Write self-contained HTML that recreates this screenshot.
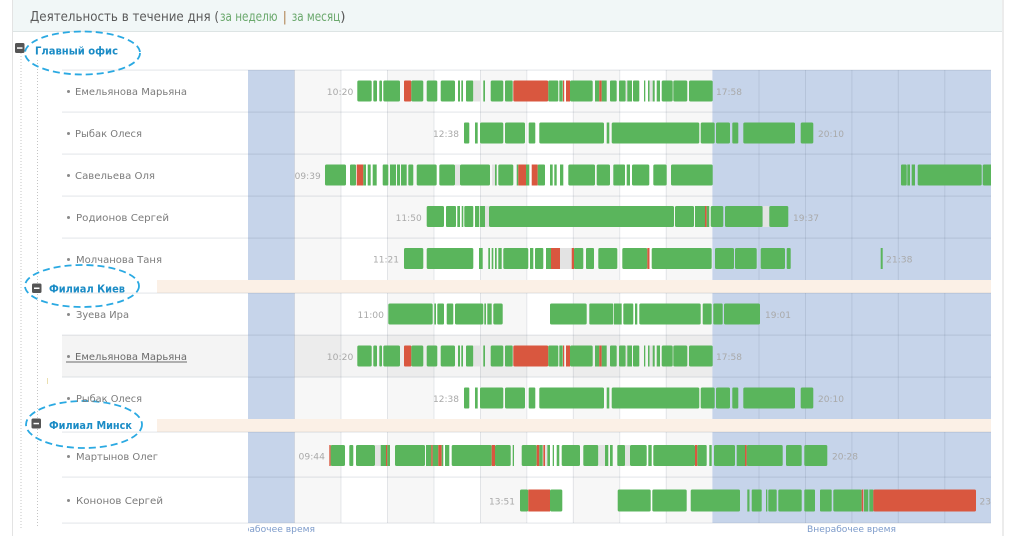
<!DOCTYPE html>
<html><head><meta charset="utf-8">
<style>
html,body{margin:0;padding:0;background:#fff;}
svg{display:block;}
.g{fill:#5ab55c}.r{fill:#d9573f}.l{fill:#e3e3e3}
.nm{font-family:"DejaVu Sans","Liberation Sans",sans-serif;font-size:10px;fill:#7b7b7b}
.tm{font-family:"DejaVu Sans","Liberation Sans",sans-serif;font-size:9px;fill:#a9a9a9}
.grp{font-family:"DejaVu Sans","Liberation Sans",sans-serif;font-size:11px;font-weight:bold;fill:#1b8cc6}
.gl{fill:rgba(70,85,110,0.13)}
</style></head>
<body>
<svg width="1024" height="536" viewBox="0 0 1024 536" xmlns="http://www.w3.org/2000/svg">
<defs>
<clipPath id="cc"><rect x="248" y="0" width="743" height="536"/></clipPath>
<g id="r1">
<rect class="g" x="357.3" width="14.4" height="21" rx="1.5"/><rect class="g" x="373.3" width="3.7" height="21" rx="1"/><rect class="g" x="379.3" width="2.7" height="21" rx="1"/><rect class="g" x="383.3" width="16.7" height="21" rx="1.5"/><rect class="r" x="404" width="7.3" height="21" rx="1"/><rect class="g" x="411.3" width="12" height="21" rx="1.5"/><rect class="g" x="426.7" width="10.6" height="21" rx="1.5"/><rect class="g" x="440.7" width="14.3" height="21" rx="1.5"/><rect class="g" x="458" width="2" height="21"/><rect class="g" x="461.3" width="1.7" height="21"/><rect class="g" x="466" width="7.3" height="21" rx="1"/><rect class="l" x="473.3" width="7.4" height="21"/><rect class="g" x="483.3" width="1.7" height="21"/><rect class="g" x="490.7" width="12.6" height="21" rx="1.5"/><rect class="g" x="505" width="7.7" height="21" rx="1"/><rect class="r" x="513.3" width="35" height="21" rx="1.5"/><rect class="g" x="548.3" width="10" height="21" rx="1"/><rect class="g" x="559.3" width="3.4" height="21"/><rect class="r" x="563" width="1.2" height="21"/><rect class="r" x="566" width="4" height="21"/><rect class="g" x="570" width="22.7" height="21" rx="1.5"/><rect class="g" x="595" width="4.3" height="21"/><rect class="r" x="599.3" width="2.4" height="21"/><rect class="g" x="601.7" width="5" height="21"/><rect class="g" x="610" width="6.7" height="21" rx="1"/><rect class="g" x="619" width="6.7" height="21" rx="1"/><rect class="l" x="625.7" width="1.6" height="21"/><rect class="g" x="627.3" width="4.7" height="21"/><rect class="g" x="633" width="6.3" height="21" rx="1"/><rect class="g" x="644" width="1.3" height="21"/><rect class="g" x="648" width="1.5" height="21"/><rect class="l" x="649.5" width="3.2" height="21"/><rect class="g" x="652.7" width="2" height="21"/><rect class="g" x="656.7" width="3.3" height="21"/><rect class="g" x="661.7" width="11" height="21" rx="1.5"/><rect class="g" x="673.3" width="14" height="21" rx="1.5"/><rect class="g" x="689" width="23.7" height="21" rx="1.5"/>
</g>
<g id="r2">
<rect class="g" x="464" width="5.3" height="21" rx="1"/><rect class="g" x="475" width="2.7" height="21"/><rect class="g" x="480" width="23.3" height="21" rx="1.5"/><rect class="g" x="505" width="20" height="21" rx="1.5"/><rect class="g" x="528.7" width="6.6" height="21" rx="1"/><rect class="g" x="539.3" width="64.7" height="21" rx="1.5"/><rect class="g" x="606.7" width="2.6" height="21"/><rect class="g" x="611.7" width="87.6" height="21" rx="1.5"/><rect class="g" x="700.7" width="14" height="21" rx="1.5"/><rect class="g" x="716" width="14" height="21" rx="1.5"/><rect class="g" x="732.3" width="6" height="21" rx="1"/><rect class="g" x="743.3" width="51.7" height="21" rx="1.5"/><rect class="g" x="800.7" width="12.6" height="21" rx="1.5"/>
</g>
</defs>

<!-- panel -->
<rect x="13" y="0" width="990" height="31" fill="#f1f7f7"/>
<rect x="13" y="31" width="990" height="1" fill="#dde4e4"/>
<rect x="12" y="0" width="1" height="536" fill="#e3e3e3"/>
<rect x="1002" y="0" width="2" height="536" fill="#ececec"/>

<!-- title -->
<g font-family="DejaVu Sans, Liberation Sans, sans-serif" font-size="13.5">
<text x="30" y="21" fill="#5a5a5a" textLength="189" lengthAdjust="spacingAndGlyphs">Деятельность в течение дня (</text>
<text x="220" y="21" fill="#6aa86c" textLength="57.5" lengthAdjust="spacingAndGlyphs">за неделю</text>
<text x="282.5" y="21" fill="#b48a5c">|</text>
<text x="291.7" y="21" fill="#6aa86c" textLength="48.5" lengthAdjust="spacingAndGlyphs">за месяц</text>
<text x="340.3" y="21" fill="#5a5a5a">)</text>
</g>

<!-- chart background -->
<g>
<rect x="294.4" y="70" width="46.5" height="453" fill="#f7f7f7"/>
<rect x="387.3" y="70" width="46.5" height="453" fill="#f7f7f7"/>
<rect x="480.2" y="70" width="46.4" height="453" fill="#f7f7f7"/>
<rect x="573.1" y="70" width="46.4" height="453" fill="#f7f7f7"/>
<rect x="666" y="70" width="46.4" height="453" fill="#f7f7f7"/>
<rect x="248" y="70" width="46.4" height="453" fill="#c6d4ea"/>
<rect x="712.4" y="70" width="278.6" height="453" fill="#c6d4ea"/>
<!-- highlighted row -->
<rect x="62" y="335" width="186" height="42" fill="rgba(0,0,0,0.045)"/>
<rect x="294.4" y="335" width="418" height="42" fill="rgba(0,0,0,0.045)"/>
<!-- vertical grid -->
<rect class="gl" x="294" y="70" width="1" height="453"/>
<rect class="gl" x="340.5" y="70" width="1" height="453"/>
<rect class="gl" x="387" y="70" width="1" height="453"/>
<rect class="gl" x="433.5" y="70" width="1" height="453"/>
<rect class="gl" x="480" y="70" width="1" height="453"/>
<rect class="gl" x="526.3" y="70" width="1" height="453"/>
<rect class="gl" x="572.8" y="70" width="1" height="453"/>
<rect class="gl" x="619.2" y="70" width="1" height="453"/>
<rect class="gl" x="665.7" y="70" width="1" height="453"/>
<rect class="gl" x="758.5" y="70" width="1" height="453"/>
<rect class="gl" x="805" y="70" width="1" height="453"/>
<rect class="gl" x="851.4" y="70" width="1" height="453"/>
<rect class="gl" x="897.8" y="70" width="1" height="453"/>
<rect class="gl" x="944.3" y="70" width="1" height="453"/>
<!-- group bands -->
<rect x="157" y="280" width="834" height="13" fill="#fbf0e6"/>
<rect x="157" y="419" width="834" height="13" fill="#fbf0e6"/>
<!-- horizontal lines -->
<rect class="gl" x="62" y="69.5" width="929" height="1.2"/>
<rect class="gl" x="62" y="111.5" width="929" height="1.2"/>
<rect class="gl" x="62" y="153.5" width="929" height="1.2"/>
<rect class="gl" x="62" y="195.5" width="929" height="1.2"/>
<rect class="gl" x="62" y="237.5" width="929" height="1.2"/>
<rect class="gl" x="62" y="292.5" width="929" height="1.2"/>
<rect class="gl" x="62" y="334.5" width="929" height="1.2"/>
<rect class="gl" x="62" y="376.5" width="929" height="1.2"/>
<rect class="gl" x="62" y="431.5" width="929" height="1.2"/>
<rect class="gl" x="62" y="476.5" width="929" height="1.2"/>
<rect class="gl" x="62" y="522.5" width="929" height="1.2"/>
</g>

<!-- tree lines -->
<line x1="21" y1="53" x2="21" y2="528" stroke="#c4c4c4" stroke-width="1" stroke-dasharray="1,2"/>
<line x1="37.5" y1="60" x2="37.5" y2="528" stroke="#c4c4c4" stroke-width="1" stroke-dasharray="1,2"/>

<!-- group icons -->
<rect x="15" y="43" width="9.5" height="10" rx="1.5" fill="#555"/><rect x="17" y="47.3" width="5.5" height="1.5" fill="#fff"/>
<rect x="32" y="283.5" width="9.5" height="9.5" rx="1.5" fill="#555"/><rect x="34" y="287.5" width="5.5" height="1.5" fill="#fff"/>
<rect x="31.5" y="418.5" width="9.5" height="10" rx="1.5" fill="#555"/><rect x="33.5" y="422.8" width="5.5" height="1.5" fill="#fff"/>
<text class="grp" x="35" y="54.3" textLength="83" lengthAdjust="spacingAndGlyphs">Главный офис</text>
<text class="grp" x="49" y="292.7" textLength="76" lengthAdjust="spacingAndGlyphs">Филиал Киев</text>
<text class="grp" x="49" y="428.8" textLength="83" lengthAdjust="spacingAndGlyphs">Филиал Минск</text>

<!-- ellipses -->
<g fill="none" stroke="#2aa9e2" stroke-width="1.8" stroke-dasharray="7,4">
<ellipse cx="82.5" cy="53" rx="57.5" ry="21.5"/>
<ellipse cx="82" cy="286" rx="57" ry="21"/>
<ellipse cx="84" cy="424.5" rx="58" ry="23.5"/>
</g>

<!-- names -->
<g fill="#8a8a8a">
<circle cx="68.5" cy="91.5" r="1.5"/><circle cx="68.5" cy="133.5" r="1.5"/><circle cx="68.5" cy="175.5" r="1.5"/><circle cx="68.5" cy="217.5" r="1.5"/><circle cx="68.5" cy="259.5" r="1.5"/><circle cx="68.5" cy="314.5" r="1.5"/><circle cx="68.5" cy="356.5" r="1.5"/><circle cx="68.5" cy="398.5" r="1.5"/><circle cx="68.5" cy="456.5" r="1.5"/><circle cx="68.5" cy="500.5" r="1.5"/>
</g>
<text class="nm" x="75" y="95" textLength="112" lengthAdjust="spacingAndGlyphs">Емельянова Марьяна</text>
<text class="nm" x="75" y="137" textLength="67" lengthAdjust="spacingAndGlyphs">Рыбак Олеся</text>
<text class="nm" x="75" y="179" textLength="80" lengthAdjust="spacingAndGlyphs">Савельева Оля</text>
<text class="nm" x="76" y="221" textLength="93" lengthAdjust="spacingAndGlyphs">Родионов Сергей</text>
<text class="nm" x="76" y="263" textLength="86" lengthAdjust="spacingAndGlyphs">Молчанова Таня</text>
<text class="nm" x="76" y="318" textLength="53" lengthAdjust="spacingAndGlyphs">Зуева Ира</text>
<text class="nm" x="75" y="360" textLength="112" lengthAdjust="spacingAndGlyphs" style="fill:#6a6a6a">Емельянова Марьяна</text>
<rect x="66" y="361.5" width="121" height="1" fill="#6a6a6a"/>
<text class="nm" x="76" y="402" textLength="66" lengthAdjust="spacingAndGlyphs">Рыбак Олеся</text>
<text class="nm" x="76" y="460" textLength="82" lengthAdjust="spacingAndGlyphs">Мартынов Олег</text>
<text class="nm" x="76" y="504" textLength="87" lengthAdjust="spacingAndGlyphs">Кононов Сергей</text>

<g clip-path="url(#cc)">
<!-- row 1 -->
<use href="#r1" y="80.5"/>
<!-- row 2 -->
<use href="#r2" y="122.5"/>
<!-- row 3 -->
<g transform="translate(0,164.5)">
<rect class="g" x="325" width="21" height="21" rx="1.5"/><rect class="g" x="350" width="6" height="21" rx="1"/><rect class="r" x="356.7" width="6.6" height="21"/><rect class="g" x="363.3" width="2.7" height="21"/><rect class="g" x="367.7" width="3" height="21"/><rect class="g" x="372.7" width="4" height="21"/><rect class="g" x="382.7" width="5.6" height="21" rx="1"/><rect class="g" x="390" width="6" height="21"/><rect class="g" x="397" width="3" height="21"/><rect class="g" x="401" width="5.7" height="21"/><rect class="g" x="408.3" width="5" height="21" rx="1"/><rect class="g" x="416.7" width="20" height="21" rx="1.5"/><rect class="g" x="439.3" width="15.7" height="21" rx="1.5"/><rect class="l" x="455" width="5" height="21"/><rect class="g" x="460" width="30" height="21" rx="1.5"/><rect class="l" x="492" width="3" height="21"/><rect class="g" x="495" width="1.7" height="21"/><rect class="g" x="498.3" width="15" height="21" rx="1.5"/><rect class="g" x="516.7" width="1.6" height="21"/><rect class="r" x="518.3" width="7.7" height="21"/><rect class="g" x="526" width="3.3" height="21"/><rect class="r" x="531.7" width="6" height="21"/><rect class="g" x="537.7" width="7.3" height="21" rx="1"/><rect class="g" x="550" width="2.7" height="21"/><rect class="g" x="554.3" width="2.4" height="21"/><rect class="g" x="560" width="3.3" height="21"/><rect class="g" x="568.3" width="26.7" height="21" rx="1.5"/><rect class="g" x="596.7" width="13.3" height="21" rx="1.5"/><rect class="g" x="613.3" width="11.7" height="21" rx="1"/><rect class="g" x="626.7" width="3.3" height="21"/><rect class="g" x="632" width="17.3" height="21" rx="1.5"/><rect class="g" x="653.3" width="13.4" height="21" rx="1.5"/><rect class="g" x="671" width="41.7" height="21" rx="1.5"/><rect class="g" x="901" width="5.7" height="21" rx="1"/><rect class="g" x="907.3" width="2.7" height="21"/><rect class="g" x="911.7" width="3.3" height="21"/><rect class="g" x="917.7" width="64" height="21" rx="1.5"/><rect class="g" x="982.7" width="10" height="21" rx="1.5"/>
</g>
<!-- row 4 -->
<g transform="translate(0,206)">
<rect class="g" x="426.7" width="17.3" height="21" rx="1.5"/><rect class="g" x="446" width="10" height="21" rx="1"/><rect class="g" x="457.3" width="2.7" height="21"/><rect class="g" x="461.7" width="1.6" height="21"/><rect class="g" x="464.3" width="9" height="21" rx="1"/><rect class="g" x="475" width="4.3" height="21"/><rect class="g" x="480" width="5" height="21"/><rect class="l" x="485" width="4" height="21"/><rect class="g" x="489" width="185" height="21" rx="1.5"/><rect class="g" x="675" width="19" height="21" rx="1.5"/><rect class="g" x="695" width="10" height="21"/><rect class="r" x="705" width="1.7" height="21"/><rect class="g" x="706.7" width="2.6" height="21"/><rect class="g" x="710.7" width="12.6" height="21" rx="1.5"/><rect class="g" x="725" width="37.7" height="21" rx="1.5"/><rect class="l" x="762.7" width="6.6" height="21"/><rect class="g" x="769.3" width="19" height="21" rx="1.5"/>
</g>
<!-- row 5 -->
<g transform="translate(0,248)">
<rect class="g" x="404" width="19.3" height="21" rx="1.5"/><rect class="g" x="426.7" width="46.6" height="21" rx="1.5"/><rect class="g" x="479" width="3.7" height="21"/><rect class="g" x="488.3" width="1.7" height="21"/><rect class="g" x="491.7" width="1.6" height="21"/><rect class="g" x="495" width="1.7" height="21"/><rect class="g" x="498.3" width="3.4" height="21"/><rect class="g" x="503.3" width="25" height="21" rx="1.5"/><rect class="g" x="530" width="3.3" height="21"/><rect class="g" x="535" width="8.3" height="21" rx="1"/><rect class="g" x="546" width="5" height="21"/><rect class="r" x="551" width="9" height="21"/><rect class="l" x="560" width="11.7" height="21"/><rect class="r" x="571.7" width="2.3" height="21"/><rect class="g" x="574" width="9.3" height="21" rx="1"/><rect class="g" x="586" width="8" height="21" rx="1"/><rect class="g" x="598.3" width="19" height="21" rx="1.5"/><rect class="g" x="622.3" width="25" height="21" rx="1.5"/><rect class="r" x="647.3" width="2.2" height="21"/><rect class="g" x="651.7" width="60" height="21" rx="1.5"/><rect class="g" x="715" width="19" height="21" rx="1.5"/><rect class="g" x="735" width="21.7" height="21" rx="1.5"/><rect class="g" x="760.7" width="24.3" height="21" rx="1.5"/><rect class="g" x="786.7" width="4" height="21" rx="1"/><rect class="g" x="880.7" width="2" height="21"/>
</g>
<!-- row 6 -->
<g transform="translate(0,303.5)">
<rect class="g" x="388.3" width="44.4" height="21" rx="1.5"/><rect class="g" x="434.3" width="1.7" height="21"/><rect class="g" x="437.3" width="6.7" height="21" rx="1"/><rect class="g" x="446.7" width="6.6" height="21" rx="1"/><rect class="g" x="455" width="28.3" height="21" rx="1.5"/><rect class="g" x="484.3" width="1.7" height="21"/><rect class="g" x="487.3" width="4.4" height="21"/><rect class="g" x="493.3" width="9.4" height="21" rx="1.5"/><rect class="g" x="550" width="36.7" height="21" rx="1.5"/><rect class="g" x="589.3" width="24" height="21" rx="1"/><rect class="g" x="614" width="7.7" height="21"/><rect class="g" x="623.3" width="10" height="21" rx="1"/><rect class="g" x="635" width="2.3" height="21"/><rect class="g" x="639.3" width="61.4" height="21" rx="1.5"/><rect class="g" x="702.7" width="9" height="21" rx="1"/><rect class="g" x="713.3" width="9.4" height="21" rx="1"/><rect class="g" x="724" width="36" height="21" rx="1.5"/>
</g>
<!-- row 7 -->
<use href="#r1" y="345.5"/>
<!-- row 8 -->
<use href="#r2" y="387.5"/>
<!-- row 9 -->
<g transform="translate(0,445)">
<rect class="r" x="329.3" width="1.4" height="21"/><rect class="g" x="330.7" width="14.3" height="21" rx="1.5"/><rect class="g" x="349.3" width="4" height="21" rx="1"/><rect class="g" x="356" width="19" height="21" rx="1.5"/><rect class="l" x="375" width="5.7" height="21"/><rect class="g" x="380.7" width="5.3" height="21"/><rect class="r" x="386" width="1.3" height="21"/><rect class="g" x="387.3" width="2.7" height="21"/><rect class="g" x="395" width="30" height="21" rx="1.5"/><rect class="g" x="426" width="5.3" height="21"/><rect class="r" x="431.3" width="1.4" height="21"/><rect class="g" x="432.7" width="5.6" height="21"/><rect class="r" x="438.3" width="3.4" height="21"/><rect class="g" x="441.7" width="1.6" height="21"/><rect class="g" x="445" width="4.3" height="21"/><rect class="g" x="451.7" width="40" height="21" rx="1.5"/><rect class="r" x="491.7" width="3.3" height="21"/><rect class="g" x="495" width="15.7" height="21" rx="1.5"/><rect class="g" x="512.7" width="1.3" height="21"/><rect class="g" x="521.7" width="15" height="21" rx="1.5"/><rect class="r" x="536.7" width="2.6" height="21"/><rect class="g" x="539.3" width="3.4" height="21"/><rect class="r" x="543.3" width="1.7" height="21"/><rect class="l" x="545" width="2" height="21"/><rect class="g" x="547.3" width="2.7" height="21"/><rect class="g" x="552.7" width="1.3" height="21"/><rect class="g" x="556.7" width="2.6" height="21"/><rect class="g" x="561.7" width="18.3" height="21" rx="1.5"/><rect class="g" x="583.3" width="15" height="21" rx="1.5"/><rect class="l" x="598.3" width="6.7" height="21"/><rect class="g" x="605" width="3.3" height="21"/><rect class="g" x="610" width="2.7" height="21"/><rect class="g" x="617.3" width="7.7" height="21" rx="1"/><rect class="l" x="625" width="5" height="21"/><rect class="g" x="630" width="16.7" height="21" rx="1.5"/><rect class="g" x="648.3" width="3.4" height="21"/><rect class="g" x="653.3" width="41.7" height="21" rx="1.5"/><rect class="r" x="695" width="2.3" height="21"/><rect class="g" x="697.3" width="9.4" height="21" rx="1"/><rect class="g" x="709.3" width="2.4" height="21"/><rect class="g" x="714" width="21" height="21" rx="1.5"/><rect class="g" x="736.7" width="8.3" height="21"/><rect class="r" x="745" width="1.7" height="21"/><rect class="g" x="746.7" width="36" height="21" rx="1.5"/><rect class="g" x="786" width="15.7" height="21" rx="1.5"/><rect class="g" x="804.3" width="23" height="21" rx="1.5"/>
</g>
<!-- row 10 -->
<g transform="translate(0,489.5)">
<rect class="g" x="520" width="8.3" height="22" rx="1.5"/><rect class="r" x="528.3" width="21.7" height="22"/><rect class="g" x="550" width="12.3" height="22" rx="1.5"/><rect class="g" x="617.7" width="33" height="22" rx="1.5"/><rect class="g" x="652.3" width="34.4" height="22" rx="1.5"/><rect class="g" x="690.7" width="49.3" height="22" rx="1.5"/><rect class="g" x="747.3" width="2.2" height="22"/><rect class="g" x="751.7" width="10" height="22" rx="1"/><rect class="g" x="766" width="1.3" height="22"/><rect class="g" x="768.3" width="8.4" height="22" rx="1"/><rect class="g" x="778.3" width="23.4" height="22" rx="1.5"/><rect class="g" x="804.3" width="10.7" height="22" rx="1"/><rect class="g" x="820" width="11.7" height="22" rx="1"/><rect class="g" x="833.3" width="28.4" height="22" rx="1.5"/><rect class="r" x="861.7" width="1.6" height="22"/><rect class="g" x="864" width="4.3" height="22"/><rect class="g" x="869.3" width="4" height="22"/><rect class="r" x="873.3" width="102.7" height="22" rx="1.5"/>
</g>

<!-- time labels -->
<text class="tm" x="353.3" y="95" text-anchor="end" textLength="26.5" lengthAdjust="spacingAndGlyphs">10:20</text>
<text class="tm" x="716" y="95" textLength="26" lengthAdjust="spacingAndGlyphs">17:58</text>
<text class="tm" x="459" y="137" text-anchor="end" textLength="26" lengthAdjust="spacingAndGlyphs">12:38</text>
<text class="tm" x="818" y="137" textLength="26" lengthAdjust="spacingAndGlyphs">20:10</text>
<text class="tm" x="320.7" y="179" text-anchor="end" textLength="26" lengthAdjust="spacingAndGlyphs">09:39</text>
<text class="tm" x="421.7" y="221" text-anchor="end" textLength="26" lengthAdjust="spacingAndGlyphs">11:50</text>
<text class="tm" x="793" y="221" textLength="26" lengthAdjust="spacingAndGlyphs">19:37</text>
<text class="tm" x="399" y="262.5" text-anchor="end" textLength="26" lengthAdjust="spacingAndGlyphs">11:21</text>
<text class="tm" x="886" y="262.5" textLength="26.5" lengthAdjust="spacingAndGlyphs">21:38</text>
<text class="tm" x="384" y="318" text-anchor="end" textLength="26.5" lengthAdjust="spacingAndGlyphs">11:00</text>
<text class="tm" x="765" y="318" textLength="26" lengthAdjust="spacingAndGlyphs">19:01</text>
<text class="tm" x="353.3" y="360" text-anchor="end" textLength="26.5" lengthAdjust="spacingAndGlyphs">10:20</text>
<text class="tm" x="716" y="360" textLength="26" lengthAdjust="spacingAndGlyphs">17:58</text>
<text class="tm" x="459" y="402" text-anchor="end" textLength="26" lengthAdjust="spacingAndGlyphs">12:38</text>
<text class="tm" x="818" y="402" textLength="26" lengthAdjust="spacingAndGlyphs">20:10</text>
<text class="tm" x="325" y="459.5" text-anchor="end" textLength="26.5" lengthAdjust="spacingAndGlyphs">09:44</text>
<text class="tm" x="832" y="459.5" textLength="26" lengthAdjust="spacingAndGlyphs">20:28</text>
<text class="tm" x="515" y="504.5" text-anchor="end" textLength="26" lengthAdjust="spacingAndGlyphs">13:51</text>
<text class="tm" x="979.5" y="504.5" textLength="26" lengthAdjust="spacingAndGlyphs">23:47</text>

<!-- bottom labels -->
<text x="231" y="532" font-family="DejaVu Sans, Liberation Sans, sans-serif" font-size="9" fill="#7d9bca" textLength="84" lengthAdjust="spacingAndGlyphs">Нерабочее время</text>
</g>
<text x="807" y="532" font-family="DejaVu Sans, Liberation Sans, sans-serif" font-size="9" fill="#7d9bca" textLength="89" lengthAdjust="spacingAndGlyphs">Внерабочее время</text>
<rect x="47" y="378" width="1" height="6" fill="#eadfb0"/>
</svg>
</body></html>
